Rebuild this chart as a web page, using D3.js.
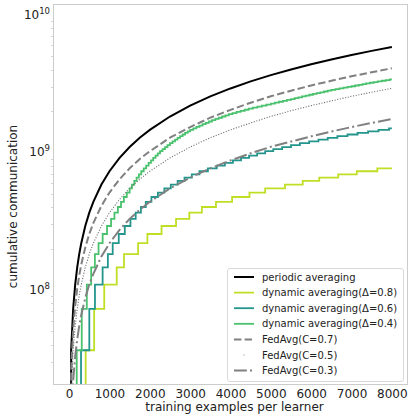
<!DOCTYPE html>
<html><head><meta charset="utf-8">
<script src="https://cdn.jsdelivr.net/npm/d3@7"></script>
<style>body{margin:0;background:#fff}svg{display:block;font-family:"DejaVu Sans",sans-serif}</style>
</head><body><svg id="c" width="409" height="416"></svg>
<script>
// ---- data ----
const xTicks = [0,1000,2000,3000,4000,5000,6000,7000,8000];
const yTicks = [1e8,1e9,1e10];
const seriesNames = ["periodic averaging","dynamic averaging(\u0394=0.8)","dynamic averaging(\u0394=0.6)","dynamic averaging(\u0394=0.4)","FedAvg(C=0.7)","FedAvg(C=0.5)","FedAvg(C=0.3)"];
const smoothX = [0,50,100,150,200,250,300,400,500,600,800,1000,1250,1500,1750,2000,2500,3000,3500,4000,4500,5000,5500,6000,6500,7000,7500,8000];
const periodicV = [0,3.65e7,7.3e7,1.095e8,1.46e8,1.825e8,2.19e8,2.92e8,3.65e8,4.38e8,5.84e8,7.3e8,9.13e8,1.095e9,1.28e9,1.46e9,1.825e9,2.19e9,2.555e9,2.92e9,3.285e9,3.65e9,4.015e9,4.38e9,4.745e9,5.11e9,5.475e9,5.84e9];
const fed07V = [0,2.56e7,5.11e7,7.67e7,1.02e8,1.28e8,1.53e8,2.04e8,2.56e8,3.07e8,4.09e8,5.11e8,6.39e8,7.67e8,8.96e8,1.02e9,1.28e9,1.53e9,1.79e9,2.04e9,2.30e9,2.56e9,2.81e9,3.07e9,3.32e9,3.58e9,3.83e9,4.09e9];
const fed05V = [0,1.83e7,3.65e7,5.48e7,7.3e7,9.13e7,1.095e8,1.46e8,1.83e8,2.19e8,2.92e8,3.65e8,4.56e8,5.48e8,6.39e8,7.3e8,9.13e8,1.095e9,1.28e9,1.46e9,1.64e9,1.83e9,2.01e9,2.19e9,2.37e9,2.56e9,2.74e9,2.92e9];
const fed03V = [0,1.1e7,2.19e7,3.29e7,4.38e7,5.48e7,6.57e7,8.76e7,1.1e8,1.31e8,1.75e8,2.19e8,2.74e8,3.29e8,3.83e8,4.38e8,5.48e8,6.57e8,7.67e8,8.76e8,9.86e8,1.1e9,1.2e9,1.31e9,1.42e9,1.53e9,1.64e9,1.75e9];
// dynamic averaging: training examples at which each synchronisation happened
const syncCost = 3.65e7;
const dyn08Sync = [410,620,870,1180,1360,1710,1940,2290,2650,2980,3290,3640,4040,4470,4860,5350,5790,6200,6670,7130,7640];
const dyn06Sync = [295,500,640,830,960,1080,1230,1380,1520,1650,1780,1900,2040,2200,2360,2520,2690,2860,3040,3230,3440,3660,3860,4060,4260,4460,4660,4860,5060,5280,5500,5720,5950,6180,6410,6650,6900,7150,7410,7670,7930];
const dyn04Sync = [188,313,438,546,638,729,831,939,1039,1124,1208,1286,1357,1429,1500,1557,1615,1672,1729,1788,1849,1909,1970,2028,2084,2141,2197,2253,2315,2377,2438,2500,2563,2625,2688,2750,2813,2875,2938,3000,3077,3154,3231,3308,3385,3462,3542,3625,3708,3792,3875,3958,4050,4150,4250,4350,4450,4556,4667,4778,4889,5000,5100,5200,5300,5400,5500,5591,5682,5773,5864,5955,6045,6136,6227,6318,6409,6500,6600,6700,6800,6900,7000,7091,7182,7273,7364,7455,7550,7650,7750,7850,7950];
const endX = 8000;

// ---- layout ----
const svg = d3.select("#c");
const L=53, R=408, T=4, B=385;
const x = d3.scaleLinear().domain([-400,8400]).range([L,R]);
const y = d3.scaleLog().domain([2.04e7,1.2e10]).range([B,T]);
const yv = v => v>0 ? y(v) : y(1e-60);

svg.append("clipPath").attr("id","clip").append("rect").attr("x",L).attr("y",T).attr("width",R-L).attr("height",B-T);

function stepPts(s){
  const pts=[[0,0]];
  s.forEach((sx,i)=>pts.push([sx,(i+1)*syncCost]));
  pts.push([endX,s.length*syncCost]);
  return pts;
}
const smoothPts = vals => smoothX.map((d,i)=>[d,vals[i]]);

const series = [
  {name:seriesNames[0], pts:smoothPts(periodicV), color:"#000000", w:2, dash:null, curve:d3.curveLinear},
  {name:seriesNames[1], pts:stepPts(dyn08Sync), color:"#bfdf25", w:1.8, dash:null, curve:d3.curveStepAfter},
  {name:seriesNames[2], pts:stepPts(dyn06Sync), color:"#23958c", w:1.8, dash:null, curve:d3.curveStepAfter},
  {name:seriesNames[3], pts:stepPts(dyn04Sync), color:"#4ac16d", w:1.8, dash:null, curve:d3.curveStepAfter},
  {name:seriesNames[4], pts:smoothPts(fed07V), color:"#808080", w:2, dash:"7.4,3.2", curve:d3.curveLinear},
  {name:seriesNames[5], pts:smoothPts(fed05V), color:"#707070", w:1.1, dash:"1.1,1.6", curve:d3.curveLinear},
  {name:seriesNames[6], pts:smoothPts(fed03V), color:"#808080", w:2, dash:"12.8,3.2,2,3.2", curve:d3.curveLinear}
];

const g = svg.append("g").attr("clip-path","url(#clip)");
series.forEach(s=>{
  const line=d3.line().x(d=>x(d[0])).y(d=>yv(d[1])).curve(s.curve);
  g.append("path").attr("d",line(s.pts)).attr("fill","none").attr("stroke",s.color)
   .attr("stroke-width",s.w).attr("stroke-dasharray",s.dash).attr("stroke-linejoin","miter");
});

// ---- axes ----
const spine="#cccccc";
svg.append("rect").attr("x",L+0.5).attr("y",T+0.5).attr("width",R-L-1).attr("height",B-T-1)
  .attr("fill","none").attr("stroke",spine).attr("stroke-width",1);

const xa = svg.append("g").attr("transform",`translate(0,${B})`)
  .call(d3.axisBottom(x).tickValues(xTicks).tickFormat(d3.format("d")).tickSize(0).tickPadding(4));
xa.select(".domain").remove();
xa.selectAll("text").attr("font-size",12).attr("fill","#222").attr("font-family","DejaVu Sans");

// y axis: major labels with superscripts, minor ticks
const minor=[];
[1e7,1e8,1e9].forEach(dec=>{for(let k=2;k<=9;k++){const v=k*dec; if(v>=2.04e7&&v<=1.2e10) minor.push(v);}});
svg.append("g").selectAll("line").data(minor).join("line")
  .attr("x1",L-2).attr("x2",L).attr("y1",d=>Math.round(y(d))+0.5).attr("y2",d=>Math.round(y(d))+0.5)
  .attr("stroke",spine).attr("stroke-width",0.8);
const yl = svg.append("g");
yTicks.forEach(v=>{
  const e=Math.round(Math.log10(v));
  const t=yl.append("text").attr("x",L-3).attr("y",y(v)+4).attr("text-anchor","end")
    .attr("font-size",12).attr("fill","#222");
  t.append("tspan").text("10");
  t.append("tspan").attr("font-size",8.5).attr("dy",-5).text(e);
});

svg.append("text").attr("x",(L+R)/2+4).attr("y",411).attr("text-anchor","middle")
  .attr("font-size",12).attr("fill","#222").text("training examples per learner");
svg.append("text").attr("transform",`translate(17,${(T+B)/2+12}) rotate(-90)`).attr("text-anchor","middle")
  .attr("font-size",12).attr("fill","#222").text("cumulative communication");

// ---- legend ----
const lg = svg.append("g");
const lx0=227, ly0=268, lw=176, lh=113;
lg.append("rect").attr("x",lx0+0.5).attr("y",ly0+0.5).attr("width",lw).attr("height",lh).attr("rx",2.5)
  .attr("fill","#fff").attr("fill-opacity",0.8).attr("stroke","#d9d9d9").attr("stroke-width",1);
series.forEach((s,i)=>{
  const yy = 277 + i*15.6;
  if(i===5){
    lg.append("circle").attr("cx",244).attr("cy",yy).attr("r",0.6).attr("fill",s.color);
  } else {
    lg.append("line").attr("x1",234).attr("x2",254).attr("y1",yy).attr("y2",yy)
      .attr("stroke",s.color).attr("stroke-width",s.w).attr("stroke-dasharray",s.dash);
  }
  lg.append("text").attr("x",262).attr("y",yy+3.5).attr("font-size",10).attr("fill","#222").text(s.name);
});
</script></body></html>
